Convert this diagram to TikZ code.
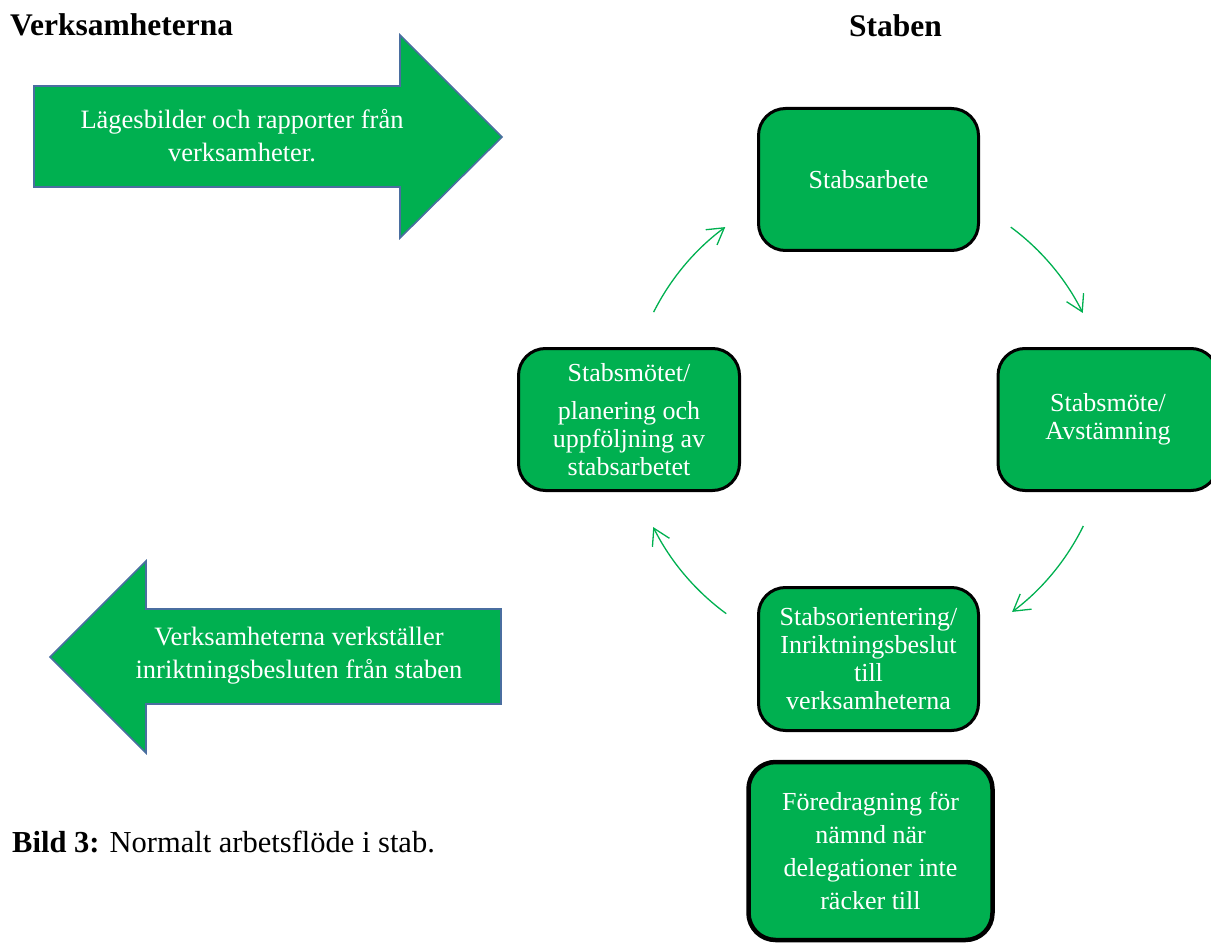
\documentclass[tikz,border=0pt]{standalone}
\usepackage{fontspec}
\setmainfont{Liberation Serif}
\usetikzlibrary{arrows.meta}
\definecolor{offgreen}{RGB}{0,176,80}
\definecolor{arrowedge}{RGB}{74,110,160}
\begin{document}
\begin{tikzpicture}[x=1pt,y=-1pt,
  bigarrow/.style={fill=offgreen, draw=arrowedge, line width=1.6pt, line join=miter},
  stepbox/.style={draw=black, fill=offgreen, line width=3pt, rounded corners=27pt, inner sep=0pt},
  boxtext/.style={text=white, align=center, font=\fontsize{26}{28}\selectfont},
  arrowtext/.style={text=white, align=center, font=\fontsize{26.5}{33}\selectfont},
  cyc/.style={draw=offgreen, line width=1.3pt, -{Straight Barb[length=16pt,width=19pt]}},
  heading/.style={font=\bfseries\fontsize{31.5}{36}\selectfont, anchor=base west, inner sep=0pt}
]
\useasboundingbox (0,0) rectangle (1211,944);
\begin{scope}
\clip (0,0) rectangle (1211,944);

% headings
\node[heading] (verk) at (10,36) {Verksamheterna};
\node[heading] (staben) at (849,37) {Staben};
\node[heading, font=\fontsize{30.5}{36}\selectfont] (bild) at (12,852) {\textbf{Bild 3:} Normalt arbetsflöde i stab.};

% big arrows
\draw[bigarrow] (34,86) -- (400,86) -- (400,35) -- (502,137) -- (400,238) -- (400,187) -- (34,187) -- cycle;
\node[arrowtext] (lage) at (242,136) {Lägesbilder och rapporter från\\verksamheter.};

\draw[bigarrow] (50,657) -- (146,561) -- (146,609) -- (501,609) -- (501,704) -- (146,704) -- (146,753) -- cycle;
\node[arrowtext] (verkst) at (299,656) {Verksamheterna verkställer\\inriktningsbesluten från staben};

% boxes
\node[stepbox, boxtext, minimum width=220pt, minimum height=142pt] (arbete) at (868.5,179.5) {Stabsarbete};
\node[stepbox, boxtext, minimum width=220pt, minimum height=142pt] (mote) at (1108,419.5) {Stabsmöte/\\Avstämning};
\node[stepbox, boxtext, minimum width=221pt, minimum height=142pt] (motet) at (629,419.5) {Stabsmötet/\\[10pt]planering och\\uppföljning av\\stabsarbetet};
\node[stepbox, boxtext, minimum width=220pt, minimum height=143pt] (orient) at (868.5,659) {Stabsorientering/\\Inriktningsbeslut\\till\\verksamheterna};
\node[stepbox, boxtext, line width=4.5pt, font=\fontsize{26}{33}\selectfont, minimum width=244pt, minimum height=178pt] (fore) at (870.5,851) {Föredragning för\\nämnd när\\delegationer inte\\räcker till};

% cycle arrows
\coordinate (c) at (868,420);
\draw[cyc] (c) ++(-153.3:240) arc[start angle=-153.3, end angle=-126.5, radius=240];
\draw[cyc] (c) ++(-53.5:240) arc[start angle=-53.5, end angle=-26.5, radius=240];
\draw[cyc] (c) ++(26.2:240) arc[start angle=26.2, end angle=53.1, radius=240];
\draw[cyc] (c) ++(126.2:240) arc[start angle=126.2, end angle=153.5, radius=240];
\end{scope}
\end{tikzpicture}
\end{document}
